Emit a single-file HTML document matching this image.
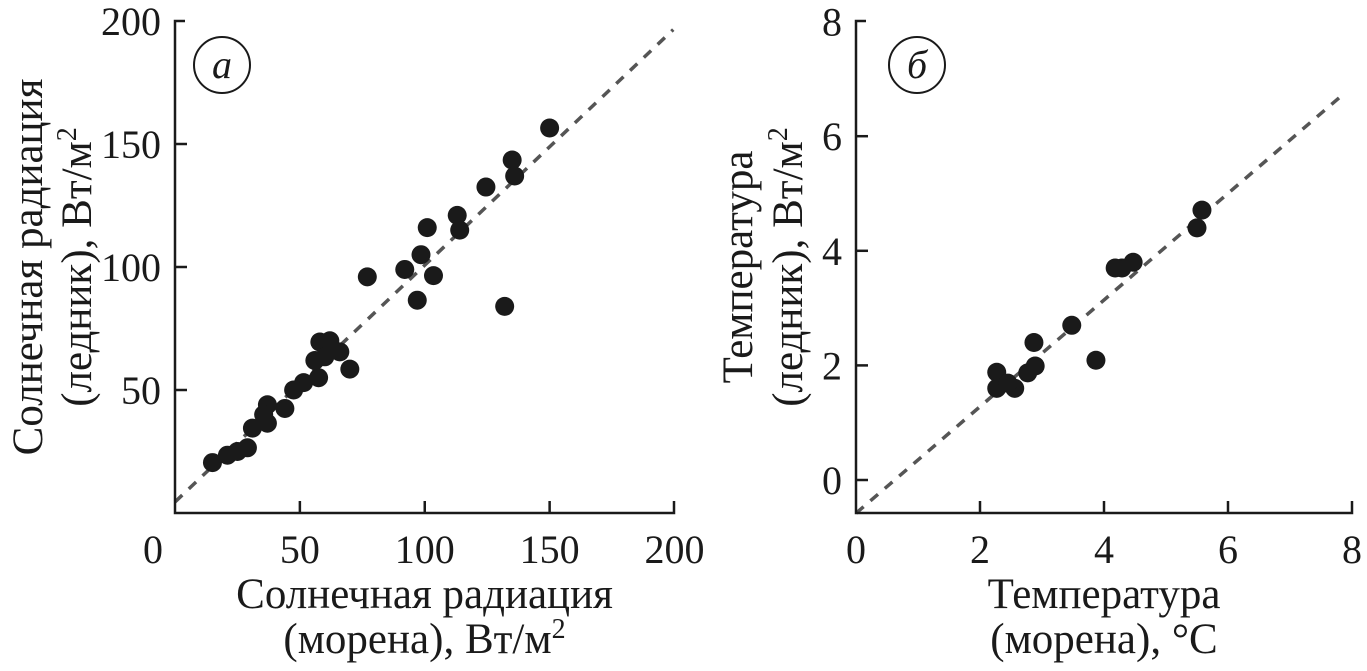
<!DOCTYPE html>
<html><head><meta charset="utf-8"><style>
html,body{margin:0;padding:0;background:#fff;}
svg{display:block;font-family:"Liberation Serif",serif;}
</style></head><body>
<svg id="chart" width="1367" height="671" viewBox="0 0 1367 671">
<g id="pa"></g>
<g id="pb"></g>
</svg>
<script>
const solarMoraine = [150,135,136,124.5,113,114,101,98.5,92,103.5,77,97,132,58,62,66,56,60,70,57.5,51.5,47.5,44,37,37,31,29,25,21,15,35.5];
const solarGlacier = [156.5,143.5,137,132.5,121,115,116,105,99,96.5,96,86.5,84,69.5,70,65.5,62,63.5,58.5,55,53,50,42.5,44,36.5,34.5,26.5,25,23.5,20.5,40];
const solarTicks = [0,50,100,150,200];
const tempMoraine = [5.58,5.5,4.47,4.29,4.18,3.48,2.87,3.87,2.89,2.77,2.27,2.27,2.56,2.45];
const tempGlacier = [4.71,4.4,3.8,3.7,3.7,2.7,2.4,2.09,1.99,1.87,1.88,1.6,1.6,1.69];
const tempXTicks = [0,2,4,6,8];
const tempYTicks = [0,2,4,6,8];
const NS='http://www.w3.org/2000/svg';
function mk(tag,attrs,parent,text){const e=document.createElementNS(NS,tag);for(const k in attrs)e.setAttribute(k,attrs[k]);if(text!==undefined)e.textContent=text;parent.appendChild(e);return e;}
function titleText(el,str){
  const parts=str.split('^');
  mk('tspan',{},el,parts[0]);
  if(parts[1]){mk('tspan',{'baseline-shift':'super','font-size':'28'},el,parts[1]);}
}
function panel(g,o){
  const sx=v=>o.x0+(v-o.xmin)*o.kx, sy=v=>o.y0-(v-o.ymin)*o.ky;
  const dl=mk('line',{x1:sx(o.xmin),y1:sy(o.l0),x2:sx(o.l1x),y2:sy(o.l1y),stroke:'#555','stroke-width':3.5,'stroke-dasharray':'10 9'},g);
  
  
  o.xs.forEach((xv,i)=>{const c=mk('circle',{cx:sx(xv),cy:sy(o.ys[i]),r:9.5,fill:'#1a1a1a'},g);
    
    });
  const ax=mk('path',{d:`M${o.x0+10} ${o.top}H${o.x0}V${o.bot}H${o.right}V${o.bot-12}`,fill:'none',stroke:'#1a1a1a','stroke-width':2.5},g);
  
  
  o.xt.forEach((t,i)=>{const x=sx(t);
    if(i>0&&i<o.xt.length-1)mk('line',{x1:x,y1:o.bot,x2:x,y2:o.bot-12,stroke:'#1a1a1a','stroke-width':2.5},g);
    const tx=mk('text',{x:(i===0?x+o.x0lab:x),y:563,'text-anchor':'middle','font-size':40,fill:'#1a1a1a'},g,t);
    
    });
  o.yt.forEach(t=>{if(o.skipY0&&t===0)return;const y=sy(t);
    if(t!==o.yt[o.yt.length-1])mk('line',{x1:o.x0,y1:y,x2:o.x0+12,y2:y,stroke:'#1a1a1a','stroke-width':2.5},g);
    const tx=mk('text',{x:o.x0-14,y:y+14,'text-anchor':'end','font-size':40,fill:'#1a1a1a'},g,t);
    
    });
  mk('circle',{cx:o.bx,cy:65,r:28,fill:'none',stroke:'#1a1a1a','stroke-width':2},g);
  const b=mk('text',{x:o.bx,y:78,'text-anchor':'middle','font-size':40,'font-style':'italic',fill:'#1a1a1a'},g,o.badge);
  
  
  const cx=(o.x0+o.right)/2;
  const t1=mk('text',{x:cx,y:608,'text-anchor':'middle','font-size':43,fill:'#1a1a1a'},g);
  titleText(t1,o.xt1);
  
  
  const t2=mk('text',{x:cx,y:653,'text-anchor':'middle','font-size':43,fill:'#1a1a1a'},g);
  titleText(t2,o.xt2);
  
  
  const yc=(o.top+o.bot)/2;
  const y1=mk('text',{x:o.ytx1,y:yc,'text-anchor':'middle','font-size':43,fill:'#1a1a1a',transform:`rotate(-90 ${o.ytx1} ${yc})`},g);
  titleText(y1,o.yt1);
  
  
  const y2=mk('text',{x:o.ytx2,y:yc,'text-anchor':'middle','font-size':43,fill:'#1a1a1a',transform:`rotate(-90 ${o.ytx2} ${yc})`},g);
  titleText(y2,o.yt2);
  
  
}
panel(document.getElementById('pa'),{x0:175,xmin:0,kx:2.4975,y0:513,ymin:0,ky:2.46,top:21,bot:513,right:674,
  l0:4.5,l1x:199.5,l1y:196.5,xs:solarMoraine,ys:solarGlacier,xt:solarTicks,yt:solarTicks,skipY0:true,x0lab:-22,
  bx:222,badge:'a',xt1:'Солнечная радиация',xt2:'(морена), Вт/м^2',ytx1:42,ytx2:91,yt1:'Солнечная радиация',yt2:'(ледник), Вт/м^2'});
panel(document.getElementById('pb'),{x0:856,xmin:0,kx:62,y0:480,ymin:0,ky:57.3,top:21,bot:513,right:1352,
  l0:-0.58,l1x:7.9,l1y:6.77,xs:tempMoraine,ys:tempGlacier,xt:tempXTicks,yt:tempYTicks,skipY0:false,x0lab:0,
  bx:917,badge:'б',xt1:'Температура',xt2:'(морена), °C',ytx1:752,ytx2:802,yt1:'Температура',yt2:'(ледник), Вт/м^2'});
</script>
</body></html>
